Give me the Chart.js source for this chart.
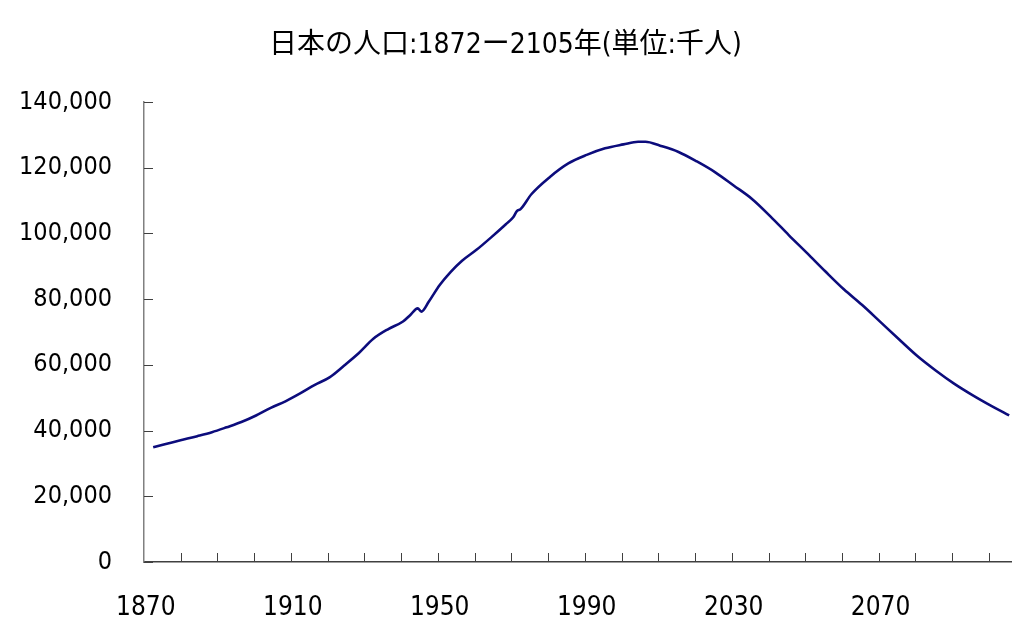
<!DOCTYPE html>
<html>
<head>
<meta charset="utf-8">
<script src="https://cdn.jsdelivr.net/npm/chart.js@4/dist/chart.umd.min.js"></script>
<style>
html,body{margin:0;padding:0;background:#fff;}
#wrap{width:1024px;height:637px;position:relative;}
</style>
</head>
<body>
<div id="wrap"><canvas id="c" width="1024" height="637"></canvas></div>
<script>
const titleText = "日本の人口:1872ー2105年(単位:千人)";
const years = [1872,1876,1880,1884,1888,1892,1896,1900,1904,1908,1912,1916,1920,1924,1928,1932,1936,1940,1942,1944,1945,1947,1950,1953,1956,1960,1964,1968,1970,1971,1972,1975,1980,1985,1990,1995,2000,2004,2006,2010,2015,2020,2025,2030,2035,2040,2045,2050,2055,2060,2065,2070,2075,2080,2085,2090,2095,2100,2105];
const population = [34900,36100,37200,38300,39500,41000,42600,44600,46900,48900,51300,53900,56200,59800,63600,68000,70900,73200,75200,77200,76200,79200,84300,88300,91600,95000,98800,102800,104900,106800,107400,112000,117200,121300,123900,125900,127100,127900,127900,126700,124800,121900,118600,114600,110500,105200,99500,94000,88400,83000,78200,73000,67800,62700,58300,54300,50800,47600,44600];
const xLabelYears = [1870,1910,1950,1990,2030,2070];
const xTickMarks = [1879.5,1889.5,1899.5,1909.5,1919.5,1929.5,1939.5,1949.5,1959.5,1969.5,1979.5,1989.5,1999.5,2009.5,2019.5,2029.5,2039.5,2049.5,2059.5,2069.5,2079.5,2089.5,2099.5];
const yTickValues = [0,20000,40000,60000,80000,100000,120000,140000];

const FONT = "'Liberation Sans Narrow','DejaVu Sans Condensed','Noto Sans CJK JP',sans-serif";

const innerTicks = {
  id: 'innerTicks',
  afterDraw(chart) {
    const ctx = chart.ctx;
    const xs = chart.scales.x, ys = chart.scales.y;
    const ca = chart.chartArea;
    ctx.save();
    ctx.strokeStyle = '#404040';
    ctx.lineWidth = 1;
    ctx.beginPath();
    xTickMarks.forEach(v => {
      const px = Math.round(xs.getPixelForValue(v)) + 0.5;
      ctx.moveTo(px, ca.bottom);
      ctx.lineTo(px, ca.bottom - 9);
    });
    yTickValues.forEach(v => {
      const py = Math.round(ys.getPixelForValue(v)) + 0.5;
      ctx.moveTo(ca.left, py);
      ctx.lineTo(ca.left + 9, py);
    });
    ctx.stroke();
    ctx.restore();
  }
};

new Chart(document.getElementById('c'), {
  type: 'line',
  data: {
    datasets: [{
      data: years.map((y, i) => ({x: y, y: population[i]})),
      borderColor: '#0c0c7c',
      borderWidth: 2.6,
      pointRadius: 0,
      cubicInterpolationMode: 'monotone',
      fill: false
    }]
  },
  options: {
    responsive: false,
    animation: false,
    layout: { padding: { left: 0, right: 13, top: 0, bottom: 0 } },
    plugins: {
      legend: { display: false },
      tooltip: { enabled: false },
      title: {
        display: true,
        text: titleText,
        color: '#000',
        font: { family: FONT, size: 28, weight: 'normal', lineHeight: 1.2 },
        padding: { top: 29, bottom: 39.4 }
      }
    },
    scales: {
      x: {
        type: 'linear',
        min: 1869.5,
        max: 2105.5,
        afterBuildTicks(scale) { scale.ticks = xLabelYears.map(v => ({value: v})); },
        afterFit(scale) { scale.height = 637 - 562; },
        grid: { display: false, drawTicks: false },
        border: { display: true, color: '#404040', width: 1.5 },
        ticks: {
          autoSkip: false,
          maxRotation: 0,
          padding: 31,
          color: '#000',
          font: { family: FONT, size: 26 },
          callback: v => String(v)
        }
      },
      y: {
        min: 0,
        max: 140000,
        afterBuildTicks(scale) { scale.ticks = yTickValues.map(v => ({value: v})); },
        afterFit(scale) { scale.width = 144; },
        grid: { display: false, drawTicks: false },
        border: { display: true, color: '#808080', width: 1.5 },
        ticks: {
          padding: 32,
          color: '#000',
          font: { family: FONT, size: 25 },
          callback: v => v.toLocaleString('en-US')
        }
      }
    }
  },
  plugins: [innerTicks]
});
</script>
</body>
</html>
